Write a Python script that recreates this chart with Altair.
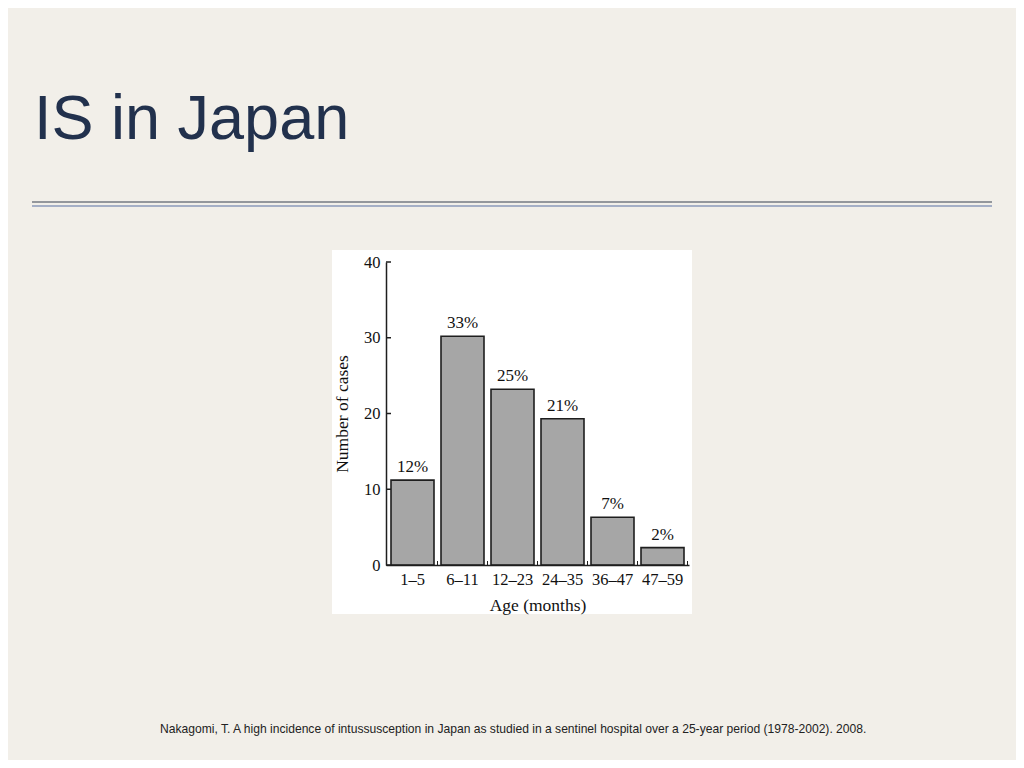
import altair as alt
import pandas as pd

# ---- data ----
categories = ["1–5", "6–11", "12–23", "24–35", "36–47", "47–59"]
cases = [11.2, 30.2, 23.2, 19.3, 6.3, 2.3]
percent_labels = ["12%", "33%", "25%", "21%", "7%", "2%"]
y_ticks = [0, 10, 20, 30, 40]

slide_title = ["IS in Japan"]
citation = ["Nakagomi, T. A high incidence of intussusception in Japan as studied in a sentinel hospital over a 25-year period (1978-2002). 2008."]

df = pd.DataFrame({"age": categories, "cases": cases, "pct": percent_labels})
ticks_df = pd.DataFrame({"v": y_ticks})
one = pd.DataFrame({"a": [0]})

# white figure panel = view area; the plot sits inside it
W, H = 360, 364
X0, X1 = 54, 357      # x range of the bar axis inside the panel
Y0, Y1 = 315, 12      # y range (0 at bottom, 40 at top)
serif = "Liberation Serif"
sans = "Liberation Sans"
ink = "#1e1e1e"

x_scale = alt.Scale(domain=categories, range=[X0, X1], paddingInner=0.14, paddingOuter=0.1)
y_scale = alt.Scale(domain=[0, 40], range=[Y0, Y1], nice=False, zero=True)

x_axis = alt.Axis(
    title="Age (months)", labelAngle=0, ticks=False, grid=False,
    offset=-(H - Y0),
    domainColor=ink, domainWidth=1.5, zindex=2,
    labelFont=serif, labelFontSize=16.5, labelColor="#111", labelPadding=6,
    titleFont=serif, titleFontSize=17.5, titleFontWeight="normal",
    titleColor="#111", titlePadding=9,
)
y_axis = alt.Axis(
    values=y_ticks, title="Number of cases", ticks=False, grid=False,
    offset=-X0,
    domainColor=ink, domainWidth=1.5, zindex=2,
    labelFont=serif, labelFontSize=16.5, labelColor="#111", labelPadding=6,
    titleFont=serif, titleFontSize=17.5, titleFontWeight="normal",
    titleColor="#111", titlePadding=12,
)

bars = alt.Chart(df).mark_bar(fill="#a6a6a6", stroke=ink, strokeWidth=1.6).encode(
    x=alt.X("age:N", scale=x_scale, sort=None, axis=x_axis),
    y=alt.Y("cases:Q", scale=y_scale, axis=y_axis),
)

pct = alt.Chart(df).mark_text(
    baseline="bottom", dy=-4, font=serif, fontSize=17, color="#111"
).encode(
    x=alt.X("age:N", scale=x_scale, sort=None, axis=x_axis),
    y=alt.Y("cases:Q", scale=y_scale, axis=y_axis),
    text="pct:N",
)

yt = alt.Chart(ticks_df).mark_rule(color=ink, strokeWidth=1.5).encode(
    y=alt.Y("v:Q", scale=y_scale, axis=y_axis),
    x=alt.value(X0), x2=alt.value(X0 + 5),
)

xt = alt.Chart(df).mark_rule(color=ink, strokeWidth=1, xOffset=3.5).encode(
    x=alt.X("age:N", scale=x_scale, sort=None, axis=x_axis, bandPosition=1),
    y=alt.value(Y0), y2=alt.value(Y0 - 4),
)

title = alt.Chart(pd.DataFrame({"t": slide_title})).mark_text(
    align="left", baseline="alphabetic", font=sans, fontSize=63, color="#22314d"
).encode(x=alt.value(-298), y=alt.value(-111), text="t:N")

line1 = alt.Chart(one).mark_rule(color="#747a82", strokeWidth=1.5).encode(
    x=alt.value(-300), x2=alt.value(660), y=alt.value(-48)
)
line2 = alt.Chart(one).mark_rule(color="#8b9aba", strokeWidth=1.5).encode(
    x=alt.value(-300), x2=alt.value(660), y=alt.value(-44)
)

cite = alt.Chart(pd.DataFrame({"t": citation})).mark_text(
    align="left", baseline="alphabetic", font=sans, fontSize=12.1, color="#222"
).encode(x=alt.value(-172), y=alt.value(483), text="t:N")

chart = alt.layer(bars, pct, yt, xt, title, line1, line2, cite).properties(
    width=W, height=H,
    autosize=alt.AutoSizeParams(type="none"),
    padding={"left": 324, "top": 242, "right": 324, "bottom": 146},
    background="#f2efe9",
).configure_view(stroke=None, fill="white")

chart.save("out.html", embed_options={"renderer": "svg", "actions": False})
